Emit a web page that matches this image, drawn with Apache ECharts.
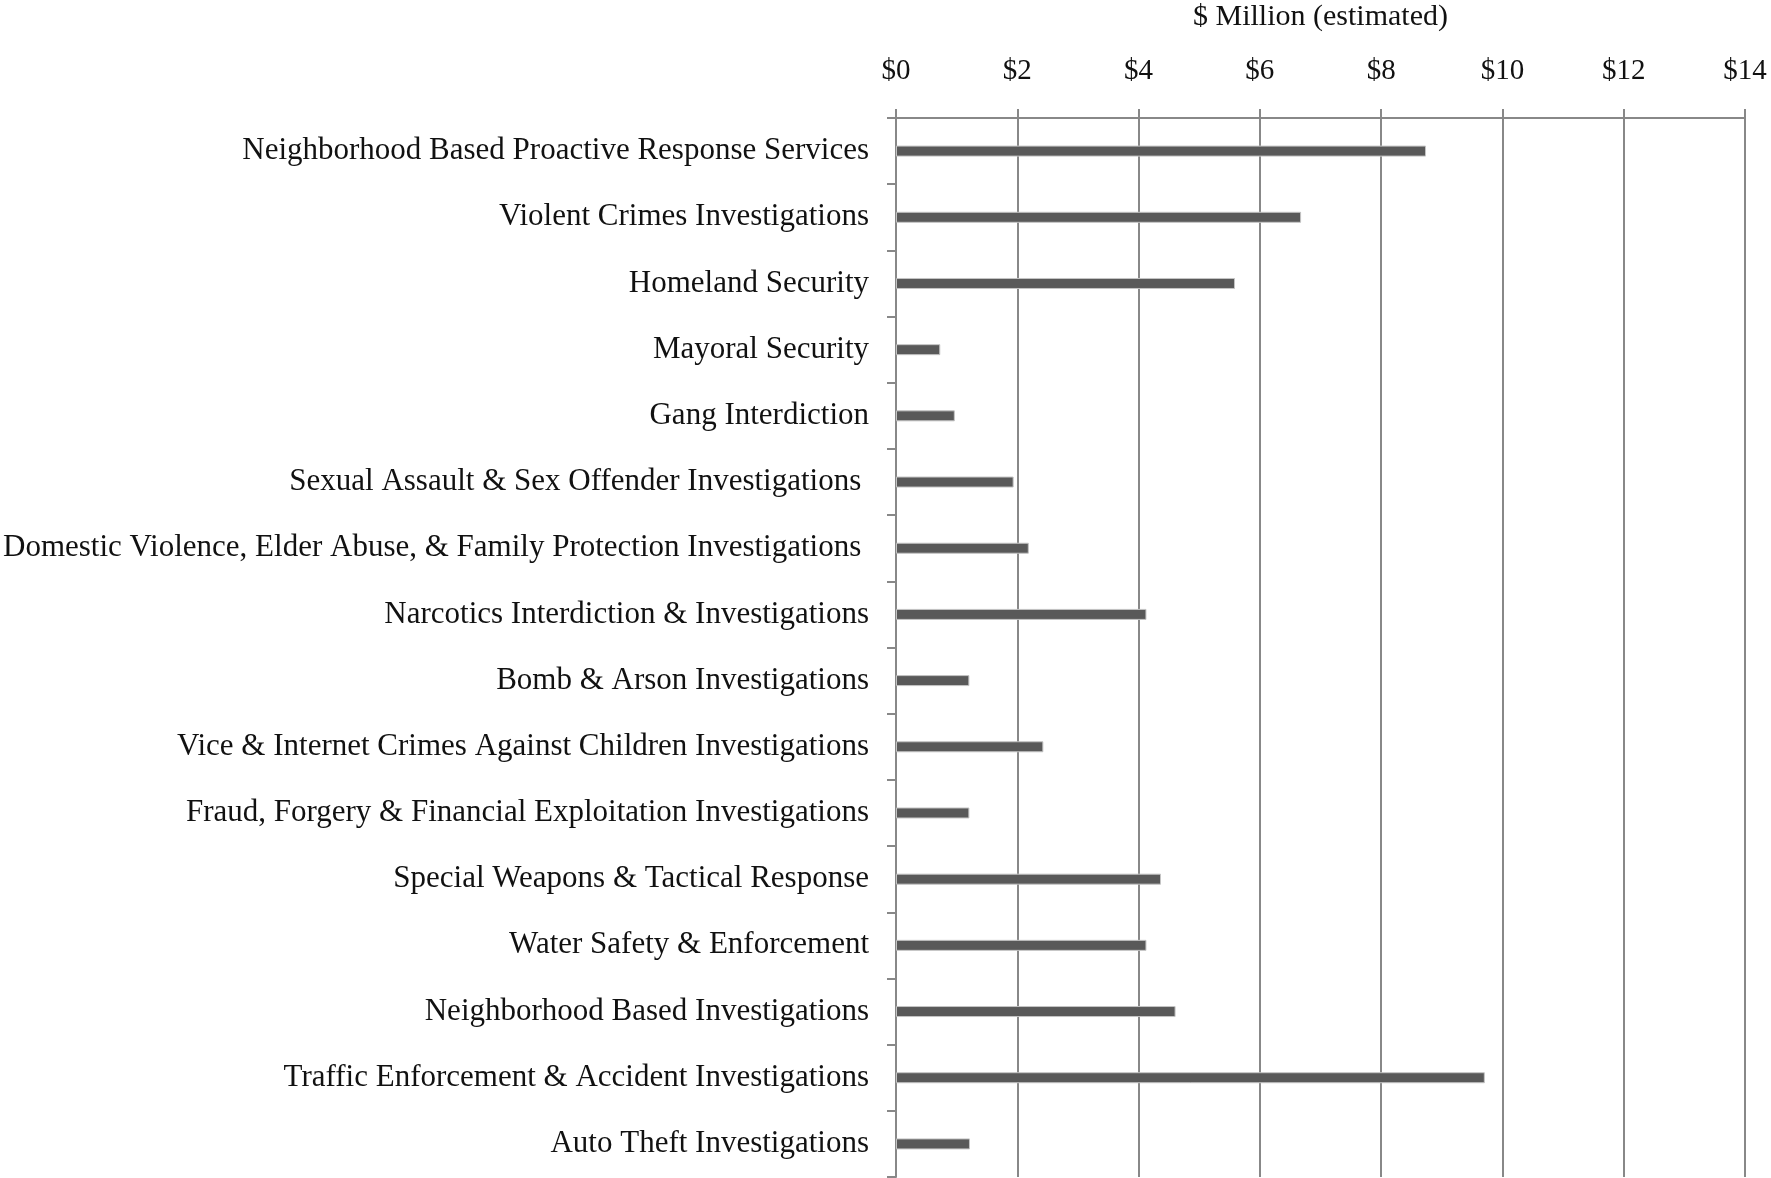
<!DOCTYPE html>
<html>
<head>
<meta charset="utf-8">
<title>Estimated Cost by Unit</title>
<script src="https://cdn.jsdelivr.net/npm/echarts@6/dist/echarts.min.js"></script>
<style>
  html, body { margin: 0; padding: 0; background: #ffffff; }
  #chart { width: 1771px; height: 1178px; }
</style>
</head>
<body>
<div id="chart"></div>
<script>
// Units, listed top to bottom
const categories = [
  'Neighborhood Based Proactive Response Services',
  'Violent Crimes Investigations',
  'Homeland Security',
  'Mayoral Security',
  'Gang Interdiction',
  'Sexual Assault & Sex Offender Investigations ',
  'Domestic Violence, Elder Abuse, & Family Protection Investigations ',
  'Narcotics Interdiction & Investigations',
  'Bomb & Arson Investigations',
  'Vice & Internet Crimes Against Children Investigations',
  'Fraud, Forgery & Financial Exploitation Investigations',
  'Special Weapons & Tactical Response',
  'Water Safety & Enforcement',
  'Neighborhood Based Investigations',
  'Traffic Enforcement & Accident Investigations',
  'Auto Theft Investigations'
];

// Estimated cost, $ million
const costMillions = [8.74, 6.68, 5.59, 0.73, 0.97, 1.94, 2.19, 4.13, 1.21, 2.43, 1.21, 4.37, 4.13, 4.61, 9.71, 1.22];

// Value axis range
const axisMin = 0;
const axisMax = 14;
const axisStep = 2;

const serif = '"Liberation Serif", "DejaVu Serif", serif';
const lineGray = '#888888';
const textColor = '#111111';

const chart = echarts.init(document.getElementById('chart'), null, { renderer: 'canvas' });

chart.setOption({
  backgroundColor: '#ffffff',
  animation: false,
  grid: { left: 896, right: 26, top: 118, bottom: 1, containLabel: false, outerBoundsMode: 'none' },
  xAxis: {
    type: 'value',
    position: 'top',
    min: axisMin,
    max: axisMax,
    interval: axisStep,
    name: '$ Million (estimated)',
    nameLocation: 'middle',
    nameGap: 86,
    nameTextStyle: { fontFamily: serif, fontSize: 30, color: textColor },
    axisLine: { show: true, lineStyle: { color: lineGray, width: 2 } },
    axisTick: { show: true, length: 9, lineStyle: { color: lineGray, width: 2 } },
    axisLabel: {
      margin: 32,
      fontFamily: serif,
      fontSize: 29,
      color: textColor,
      formatter: v => '$' + v
    },
    splitLine: { show: true, lineStyle: { color: lineGray, width: 2 } }
  },
  yAxis: {
    type: 'category',
    inverse: true,
    data: categories,
    axisLine: { show: true, lineStyle: { color: lineGray, width: 2 } },
    axisTick: { show: true, length: 9, lineStyle: { color: lineGray, width: 2 } },
    axisLabel: {
      margin: 27,
      fontFamily: serif,
      fontSize: 31,
      color: textColor
    },
    splitLine: { show: false }
  },
  series: [{
    type: 'bar',
    data: costMillions,
    barWidth: 11,
    itemStyle: { color: '#595959', borderColor: '#c4c4c4', borderWidth: 1 },
    label: { show: false }
  }]
});
</script>
</body>
</html>
